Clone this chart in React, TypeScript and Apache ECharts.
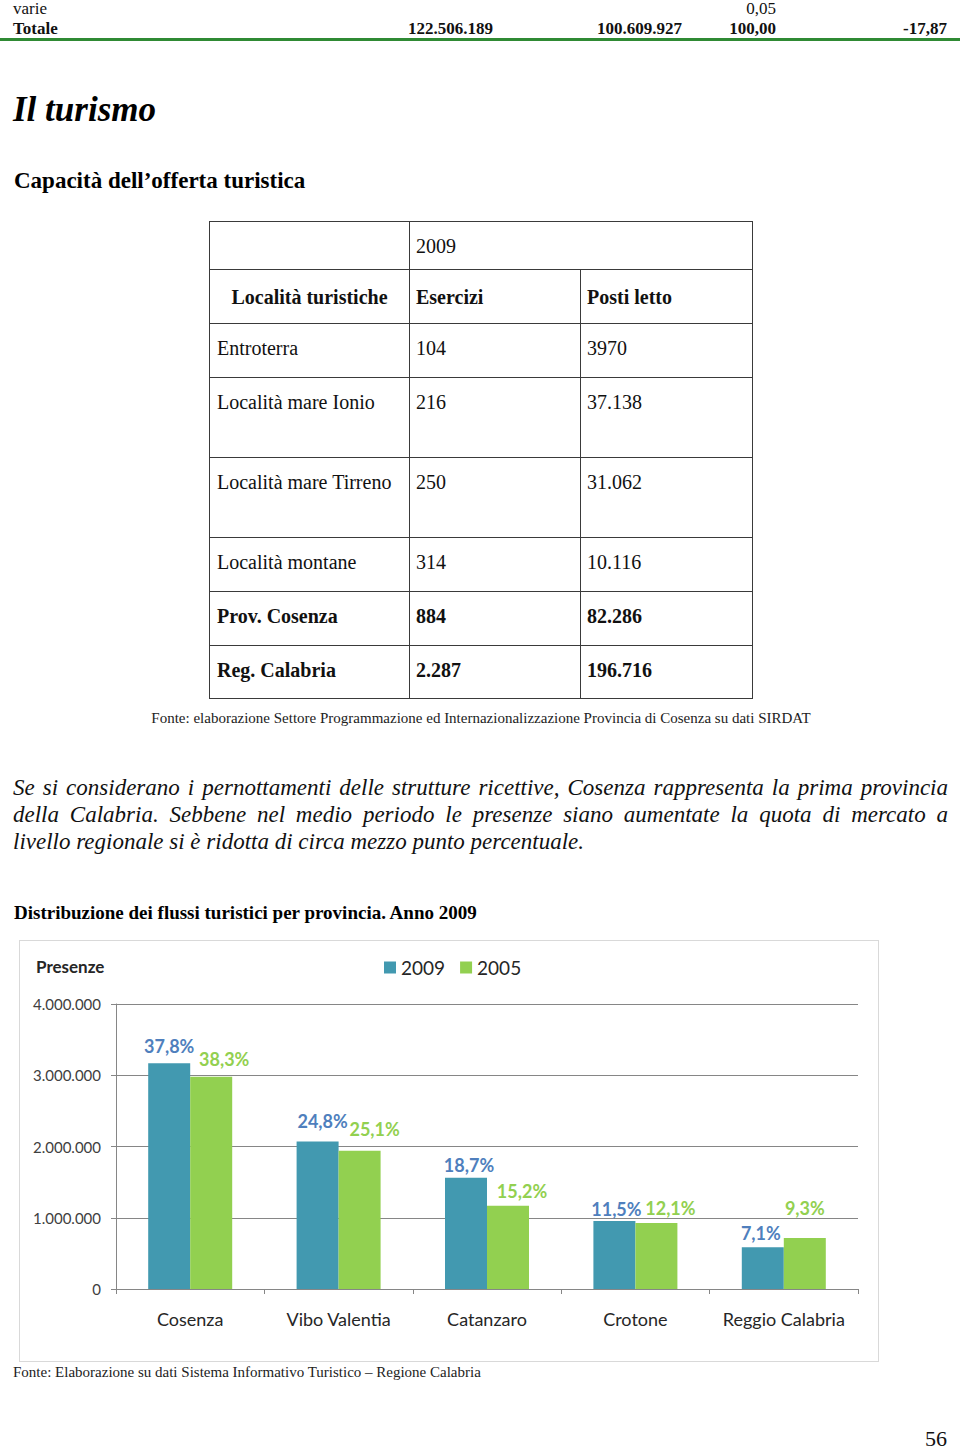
import React, { useEffect, useRef } from "react";
import * as echarts from "echarts";

// ---------- Data ----------
const topRowLabels = ["varie", "Totale"];
const totaleValues = ["122.506.189", "100.609.927", "100,00", "-17,87"];
const varieShare = "0,05";

const tableYear = "2009";
const tableHeaders = ["Località turistiche", "Esercizi", "Posti letto"];
const localita = ["Entroterra", "Località mare Ionio", "Località mare Tirreno", "Località montane", "Prov. Cosenza", "Reg. Calabria"];
const esercizi = ["104", "216", "250", "314", "884", "2.287"];
const postiLetto = ["3970", "37.138", "31.062", "10.116", "82.286", "196.716"];
const rowIsTotal = [false, false, false, false, true, true];

const province = ["Cosenza", "Vibo Valentia", "Catanzaro", "Crotone", "Reggio Calabria"];
const presenze2009 = [3170000, 2070000, 1560000, 955000, 585000];
const presenze2005 = [2980000, 1940000, 1170000, 925000, 715000];
const quota2009 = [37.8, 24.8, 18.7, 11.5, 7.1];
const quota2005 = [38.3, 25.1, 15.2, 12.1, 9.3];
const yTicks = [0, 1000000, 2000000, 3000000, 4000000];

// label nudges (styling only)
const nudge2009 = [[0, -3], [5, -7], [3, 1], [2, 2], [-2, 0]];
const nudge2005 = [[13, -4], [15, -8], [14, -1], [14, -1], [0, -16]];

const paragraphLines = [
  "Se si considerano i pernottamenti delle strutture ricettive, Cosenza rappresenta la prima provincia",
  "della Calabria. Sebbene nel medio periodo le presenze siano aumentate la quota di mercato a",
  "livello regionale si è ridotta di circa mezzo punto percentuale.",
];

const SERIF = '"Liberation Serif", "Times New Roman", serif';
const SANS = 'Lato, "Noto Sans", sans-serif';

const fmtThousands = (v: number) => String(v).replace(/\B(?=(\d{3})+(?!\d))/g, ".");
const fmtPct = (v: number) => v.toFixed(1).replace(".", ",") + "%";

function Chart() {
  const ref = useRef<HTMLDivElement>(null);
  useEffect(() => {
    if (!ref.current) return;
    const chart = echarts.init(ref.current, undefined, { renderer: "svg" });
    const mk = (vals: number[], shares: number[], nudges: number[][]) =>
      vals.map((v, i) => ({ value: v, label: { offset: nudges[i], formatter: fmtPct(shares[i]) } }));
    chart.setOption({
      animation: false,
      textStyle: { fontFamily: SANS },
      title: {
        text: "Presenze",
        left: 11,
        top: 12,
        textStyle: { fontFamily: SANS, fontSize: 17, fontWeight: "bold", color: "#262626" },
      },
      legend: {
        data: ["2009", "2005"],
        left: 359,
        top: 12,
        itemWidth: 12,
        itemHeight: 12,
        itemGap: 15,
        icon: "rect",
        textStyle: { fontFamily: SANS, fontSize: 19, color: "#262626" },
      },
      grid: { left: 96, right: 20, top: 63, bottom: 72, containLabel: false },
      xAxis: {
        type: "category",
        data: province,
        axisLine: { show: true, lineStyle: { color: "#868686", width: 1 } },
        axisTick: { show: true, length: 5, interval: 0, alignWithLabel: false, lineStyle: { color: "#868686" } },
        axisLabel: { fontFamily: SANS, fontSize: 18, color: "#262626", margin: 21, interval: 0 },
      },
      yAxis: {
        type: "value",
        min: yTicks[0],
        max: yTicks[yTicks.length - 1],
        interval: yTicks[1] - yTicks[0],
        axisLine: { show: true, lineStyle: { color: "#868686", width: 1 } },
        axisTick: { show: true, length: 5, lineStyle: { color: "#868686" } },
        splitLine: { show: true, lineStyle: { color: "#868686", width: 1 } },
        axisLabel: { fontFamily: SANS, fontSize: 15, color: "#404040", margin: 15, formatter: (v: number) => fmtThousands(v) },
      },
      series: [
        {
          name: "2009",
          type: "bar",
          data: mk(presenze2009, quota2009, nudge2009),
          barWidth: 42,
          barGap: "0%",
          itemStyle: { color: "#4299B0" },
          label: { show: true, position: "top", fontFamily: SANS, fontSize: 18, fontWeight: "bold", color: "#4F7FBD" },
        },
        {
          name: "2005",
          type: "bar",
          data: mk(presenze2005, quota2005, nudge2005),
          barWidth: 42,
          barGap: "0%",
          itemStyle: { color: "#92D050" },
          label: { show: true, position: "top", fontFamily: SANS, fontSize: 18, fontWeight: "bold", color: "#92D050" },
        },
      ],
    });
    return () => chart.dispose();
  }, []);
  return <div ref={ref} style={{ width: 858, height: 420 }} />;
}

const abs = (left: number, top: number, extra: React.CSSProperties = {}): React.CSSProperties => ({
  position: "absolute",
  left,
  top,
  whiteSpace: "nowrap",
  ...extra,
});

function Table() {
  const xs = [209, 409, 580, 752];
  const ys = [221, 269, 323, 377, 457, 537, 591, 645, 698];
  const cells: React.ReactNode[] = [];
  const border = "1px solid #3a3a3a";
  const cell = (key: string, x0: number, x1: number, y0: number, y1: number, text: string, bold: boolean, padTop: number, padLeft: number, center = false) => (
    <div
      key={key}
      style={{
        position: "absolute",
        left: x0,
        top: y0,
        width: x1 - x0 + 1,
        height: y1 - y0 + 1,
        boxSizing: "border-box",
        border,
        paddingTop: padTop,
        paddingLeft: center ? 0 : padLeft,
        textAlign: center ? "center" : "left",
        fontFamily: SERIF,
        fontSize: 20,
        lineHeight: "24px",
        fontWeight: bold ? "bold" : "normal",
        color: "#111",
        whiteSpace: "nowrap",
      }}
    >
      {text}
    </div>
  );
  cells.push(cell("r0c0", xs[0], xs[1], ys[0], ys[1], "", false, 12, 8));
  cells.push(cell("r0c1", xs[1], xs[3], ys[0], ys[1], tableYear, false, 12, 6));
  cells.push(cell("h0", xs[0], xs[1], ys[1], ys[2], tableHeaders[0], true, 15, 8, true));
  cells.push(cell("h1", xs[1], xs[2], ys[1], ys[2], tableHeaders[1], true, 15, 6));
  cells.push(cell("h2", xs[2], xs[3], ys[1], ys[2], tableHeaders[2], true, 15, 6));
  localita.forEach((loc, i) => {
    const y0 = ys[i + 2];
    const y1 = ys[i + 3];
    const b = rowIsTotal[i];
    cells.push(cell("a" + i, xs[0], xs[1], y0, y1, loc, b, 12, 7));
    cells.push(cell("b" + i, xs[1], xs[2], y0, y1, esercizi[i], b, 12, 6));
    cells.push(cell("c" + i, xs[2], xs[3], y0, y1, postiLetto[i], b, 12, 6));
  });
  return <>{cells}</>;
}

export default function App() {
  const right = (r: number, top: number, extra: React.CSSProperties = {}): React.CSSProperties => ({
    position: "absolute",
    right: 960 - r,
    top,
    whiteSpace: "nowrap",
    ...extra,
  });
  const rowFont: React.CSSProperties = { fontFamily: SERIF, fontSize: 17, lineHeight: "18px", color: "#111" };
  const totFont: React.CSSProperties = { ...rowFont, fontWeight: "bold" };
  const totRights = [493, 682, 776, 947];
  return (
    <div style={{ position: "absolute", left: 0, top: 0, width: 960, height: 1450, background: "#fff", overflow: "hidden", fontFamily: SERIF }}>
      <div style={abs(13, 0, rowFont)}>{topRowLabels[0]}</div>
      <div style={right(776, 0, rowFont)}>{varieShare}</div>
      <div style={abs(13, 20, totFont)}>{topRowLabels[1]}</div>
      {totaleValues.map((v, i) => (
        <div key={v} style={right(totRights[i], 20, totFont)}>{v}</div>
      ))}
      <div style={{ position: "absolute", left: 0, top: 38, width: 960, height: 3, background: "#2f8a34" }} />

      <div style={abs(13, 90, { fontFamily: SERIF, fontSize: 35, lineHeight: "40px", fontWeight: "bold", fontStyle: "italic", color: "#000" })}>Il turismo</div>
      <div style={abs(14, 167, { fontFamily: SERIF, fontSize: 23, lineHeight: "27px", fontWeight: "bold", color: "#000" })}>Capacità dell’offerta turistica</div>

      <Table />

      <div style={{ position: "absolute", left: 0, top: 709, width: 962, textAlign: "center", fontFamily: SERIF, fontSize: 15, lineHeight: "18px", color: "#222", whiteSpace: "nowrap" }}>
        Fonte: elaborazione Settore Programmazione ed Internazionalizzazione Provincia di Cosenza su dati SIRDAT
      </div>

      {paragraphLines.map((line, i) => (
        <div
          key={i}
          style={{
            position: "absolute",
            left: 13,
            top: 774 + i * 27,
            width: 935,
            fontFamily: SERIF,
            fontSize: 23,
            lineHeight: "27px",
            fontStyle: "italic",
            color: "#111",
            textAlign: i < paragraphLines.length - 1 ? "justify" : "left",
            textAlignLast: i < paragraphLines.length - 1 ? "justify" : "left",
            whiteSpace: "nowrap",
          }}
        >
          {line}
        </div>
      ))}

      <div style={abs(14, 902, { fontFamily: SERIF, fontSize: 19, lineHeight: "22px", fontWeight: "bold", color: "#000" })}>
        Distribuzione dei flussi turistici per provincia. Anno 2009
      </div>

      <div style={{ position: "absolute", left: 19, top: 940, width: 860, height: 422, boxSizing: "border-box", border: "1px solid #d9d9d9" }}>
        <Chart />
      </div>

      <div style={abs(13, 1363, { fontFamily: SERIF, fontSize: 15, lineHeight: "18px", color: "#222" })}>
        Fonte: Elaborazione su dati Sistema Informativo Turistico – Regione Calabria
      </div>
      <div style={abs(925, 1428, { fontFamily: SERIF, fontSize: 22, lineHeight: "22px", color: "#111" })}>56</div>
    </div>
  );
}
